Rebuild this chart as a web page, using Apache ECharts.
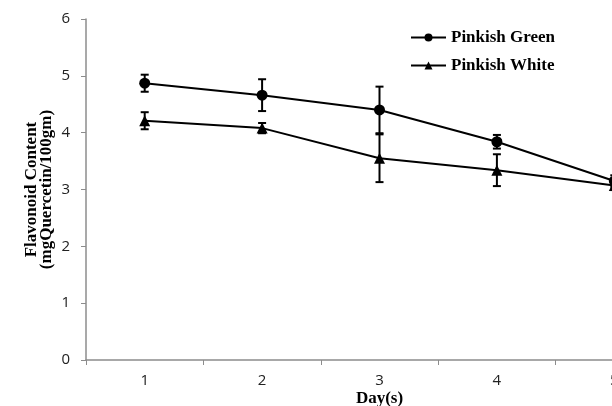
<!DOCTYPE html>
<html lang="en">
<head>
	<meta charset="UTF-8">
	<title>Flavonoid Content</title>
	<style>
		html, body { margin: 0; padding: 0; background: #fff; overflow: hidden; }
	</style>
</head>
<body>
	<!-- the plot runs past the right edge in the original, so the div is wider than the window -->
	<div id="main" style="width: 673px;height: 406px"></div>

	<script src="https://cdn.jsdelivr.net/npm/echarts@6/dist/echarts.min.js"></script>
	<script type="text/javascript">
	// data
	var days = ['1', '2', '3', '4', '5'];
	var yTicks = [0, 1, 2, 3, 4, 5, 6];
	var greenVals = [4.87, 4.66, 4.40, 3.84, 3.15];
	var greenErr = [0.15, 0.28, 0.41, 0.12, 0.10];
	var whiteVals = [4.21, 4.08, 3.55, 3.34, 3.07];
	var whiteErr = [0.15, 0.09, 0.42, 0.28, 0.08];

	var serif = '"Liberation Serif", "DejaVu Serif", serif';

	function errData(vals, errs) {
		var out = [];
		for (var i = 0; i < vals.length; i++) {
			out.push([i, vals[i] - errs[i], vals[i] + errs[i]]);
		}
		return out;
	}

	// vertical bar with caps
	function errItem(params, api) {
		var lo = api.coord([api.value(0), api.value(1)]);
		var hi = api.coord([api.value(0), api.value(2)]);
		var w = 4;
		var st = { stroke: '#000', lineWidth: 2 };
		return {
			type: 'group',
			children: [
				{ type: 'line', shape: { x1: lo[0], y1: lo[1], x2: hi[0], y2: hi[1] }, style: st },
				{ type: 'line', shape: { x1: lo[0] - w, y1: lo[1], x2: lo[0] + w, y2: lo[1] }, style: st },
				{ type: 'line', shape: { x1: hi[0] - w, y1: hi[1], x2: hi[0] + w, y2: hi[1] }, style: st }
			]
		};
	}

	var myChart = echarts.init(document.getElementById('main'));

	var option = {
		animation: false,
		grid: { left: 86, top: 19, bottom: 46, right: 0, outerBoundsMode: 'none' },
		legend: {
			orient: 'vertical',
			left: 410,
			top: 29,
			padding: 0,
			itemWidth: 35,
			itemHeight: 10,
			itemGap: 11,
			data: ['Pinkish Green', 'Pinkish White'],
			textStyle: { fontFamily: serif, fontWeight: 'bold', fontSize: 17, color: '#000' }
		},
		xAxis: {
			type: 'category',
			data: days,
			boundaryGap: true,
			name: 'Day(s)',
			nameLocation: 'middle',
			nameGap: 30,
			nameMoveOverlap: false,
			nameTextStyle: { fontFamily: serif, fontWeight: 'bold', fontSize: 17, color: '#000' },
			axisLine: { lineStyle: { color: '#8c8c8c', width: 1.5 } },
			axisTick: { show: true, length: 5, lineStyle: { color: '#8c8c8c' } },
			axisLabel: { margin: 13, fontFamily: '"Open Sans", sans-serif', fontSize: 15, color: '#222' },
			splitLine: { show: false }
		},
		yAxis: {
			type: 'value',
			min: yTicks[0],
			max: yTicks[yTicks.length - 1],
			interval: 1,
			name: 'Flavonoid Content\n(mgQuercetin/100gm)',
			nameLocation: 'middle',
			nameGap: 32,
			nameMoveOverlap: false,
			nameTextStyle: { fontFamily: serif, fontWeight: 'bold', fontSize: 17, color: '#000', lineHeight: 15 },
			axisLine: { show: true, lineStyle: { color: '#8c8c8c', width: 1.5 } },
			axisTick: { show: true, length: 5, lineStyle: { color: '#8c8c8c' } },
			axisLabel: { margin: 16, fontFamily: '"Open Sans", sans-serif', fontSize: 15, color: '#222' },
			splitLine: { show: false }
		},
		series: [{
			name: 'Pinkish Green',
			type: 'line',
			data: greenVals,
			symbol: 'circle',
			symbolSize: 11,
			clip: false,
			itemStyle: { color: '#000' },
			lineStyle: { color: '#000', width: 2 }
		}, {
			name: 'Pinkish White',
			type: 'line',
			data: whiteVals,
			symbol: 'triangle',
			symbolSize: 11,
			clip: false,
			itemStyle: { color: '#000' },
			lineStyle: { color: '#000', width: 2 }
		}, {
			type: 'custom',
			renderItem: errItem,
			data: errData(greenVals, greenErr),
			encode: { x: 0, y: [1, 2] },
			z: 3
		}, {
			type: 'custom',
			renderItem: errItem,
			data: errData(whiteVals, whiteErr),
			encode: { x: 0, y: [1, 2] },
			z: 3
		}]
	};
	myChart.setOption(option);
	</script>
</body>
</html>
